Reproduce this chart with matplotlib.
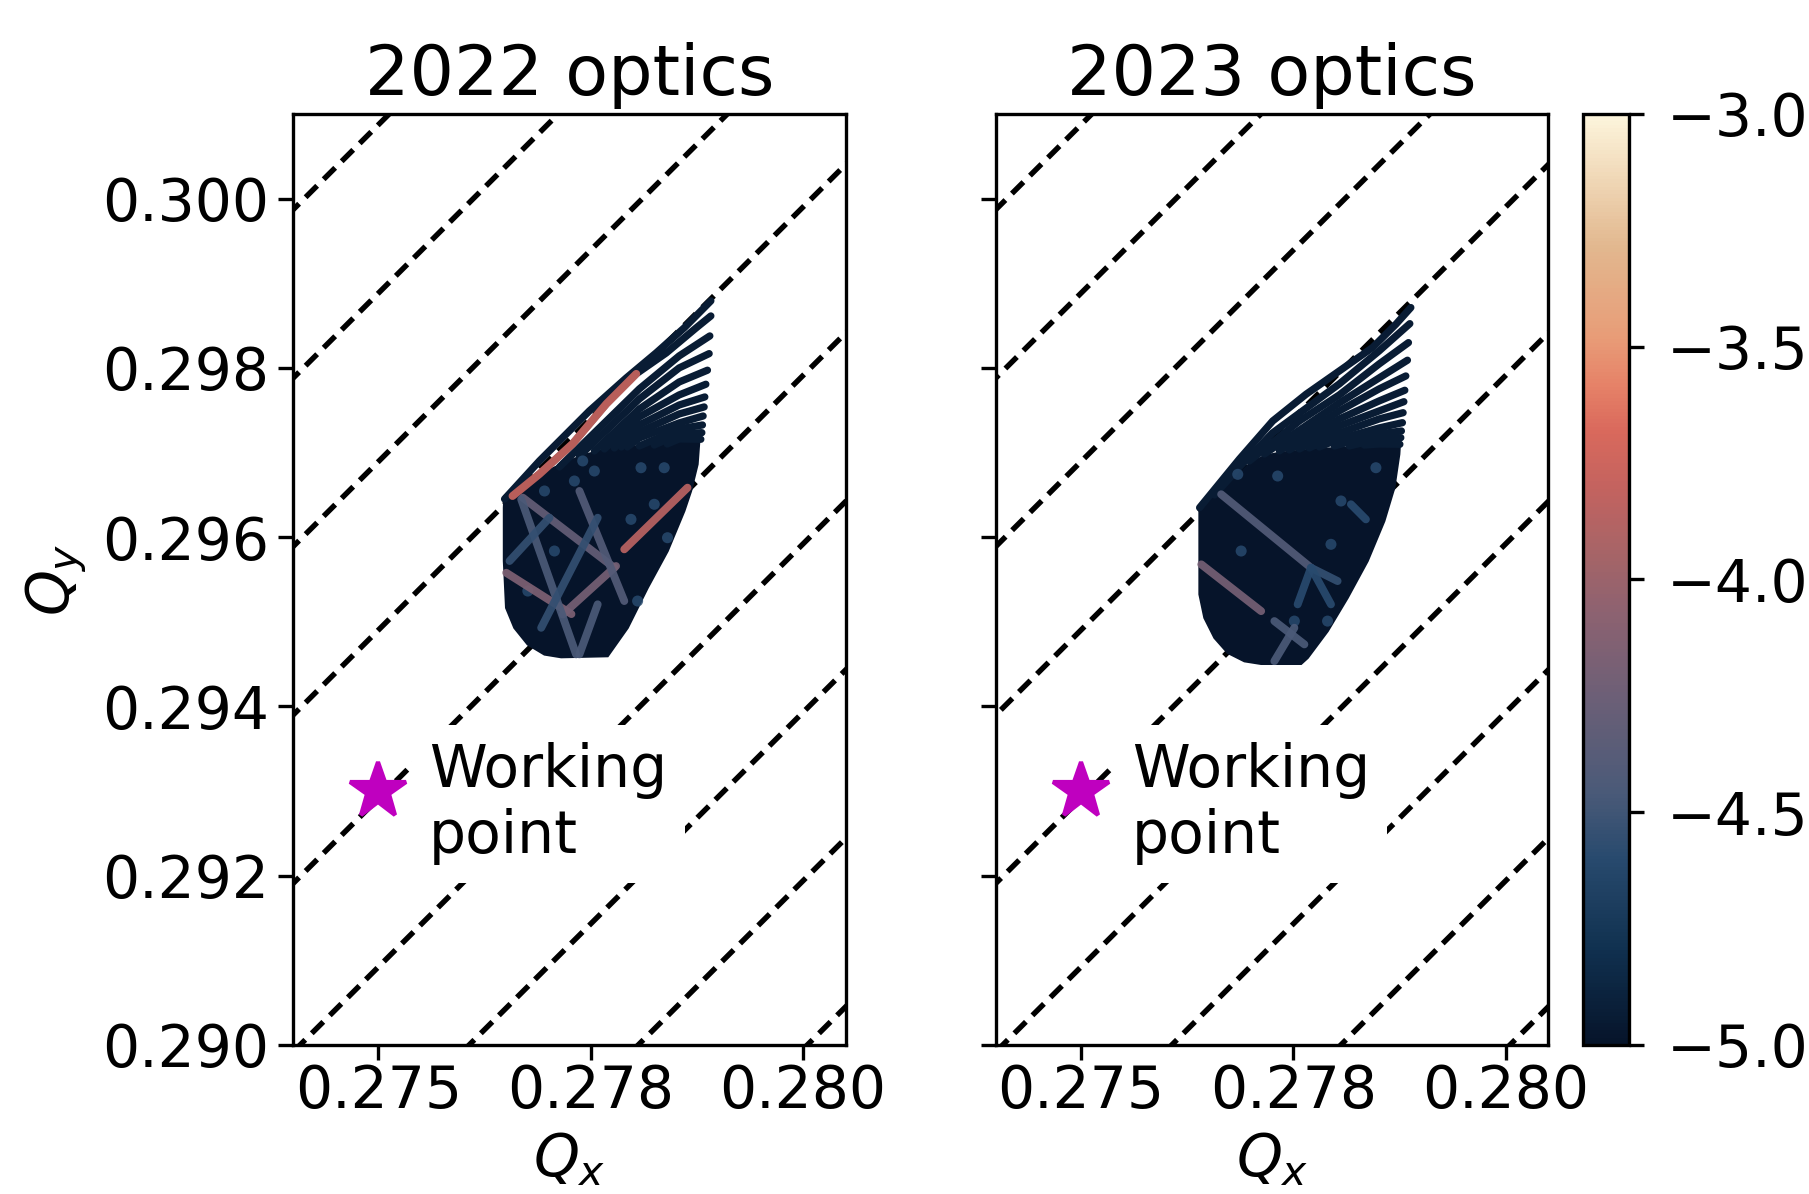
import matplotlib
matplotlib.use("Agg")
import matplotlib.pyplot as plt
from matplotlib.colors import LinearSegmentedColormap, Normalize
from matplotlib.cm import ScalarMappable

plt.rcParams["font.family"] = ["DejaVu Sans"]
plt.rcParams["font.size"] = 14

# ---------------------------------------------------------------- axes data
qx_limits = (0.274, 0.2805)
qy_limits = (0.290, 0.301)
qx_ticks = [0.275, 0.2775, 0.280]
qx_tick_labels = ["0.275", "0.278", "0.280"]
qy_ticks = [0.290, 0.292, 0.294, 0.296, 0.298, 0.300]
qy_tick_labels = ["0.290", "0.292", "0.294", "0.296", "0.298", "0.300"]
panel_titles = ["2022 optics", "2023 optics"]

diffusion_range = (-5.0, -3.0)
cbar_ticks = [-5.0, -4.5, -4.0, -3.5, -3.0]

working_point = (0.275, 0.293)
working_point_label = "Working\npoint"
label_anchor = (0.2756, 0.29285)

# synchrotron sidebands of the coupling resonance: Qy = Qx + m * Qs
synchrotron_tune = 0.00199
sideband_orders = [5, 6, 7, 8, 9, 10, 11, 12, 13]

# ------------------------------------------------------- 2022 tune footprint
fp22_outline_qx = [0.276487, 0.276992, 0.277192, 0.277427, 0.277662, 0.277955,
                   0.278401, 0.278777,
                   0.278757, 0.278680, 0.278601, 0.278405, 0.278170, 0.277935,
                   0.277700, 0.277153, 0.276957, 0.276761, 0.276604, 0.276507,
                   0.276481, 0.276481]
fp22_outline_qy = [0.296486, 0.296781, 0.296876, 0.296970, 0.297030, 0.297065,
                   0.297100, 0.297136,
                   0.296861, 0.296545, 0.296309, 0.295836, 0.295402, 0.294929,
                   0.294595, 0.294583, 0.294615, 0.294733, 0.294929, 0.295165,
                   0.295718, 0.296344]

fp22_strands = [
    [(0.276487, 0.296450), (0.276898, 0.296901), (0.277485, 0.297491), (0.277920, 0.297881),
     (0.278272, 0.298177), (0.278601, 0.298472), (0.278915, 0.298791)],
    [(0.276581, 0.296486), (0.276898, 0.296746), (0.277286, 0.297101), (0.277685, 0.297574),
     (0.278037, 0.297929), (0.278390, 0.298176), (0.278742, 0.298472), (0.278915, 0.298613)],
    [(0.277133, 0.296829), (0.278073, 0.297751), (0.278542, 0.298141), (0.278903, 0.298377)],
    [(0.277368, 0.296959), (0.278073, 0.297632), (0.278542, 0.297999), (0.278895, 0.298168)],
    [(0.277544, 0.297018), (0.278073, 0.297514), (0.278542, 0.297833), (0.278875, 0.297972)],
    [(0.277662, 0.297041), (0.278073, 0.297420), (0.278542, 0.297680), (0.278856, 0.297806)],
    [(0.277779, 0.297053), (0.278073, 0.297325), (0.278542, 0.297561), (0.278844, 0.297656)],
    [(0.277861, 0.297065), (0.278073, 0.297242), (0.278542, 0.297455), (0.278836, 0.297538)],
    [(0.277932, 0.297065), (0.278073, 0.297171), (0.278542, 0.297349), (0.278824, 0.297431)],
    [(0.278073, 0.297077), (0.278542, 0.297278), (0.278816, 0.297325)],
    [(0.278249, 0.297088), (0.278542, 0.297219), (0.278809, 0.297234)],
    [(0.278401, 0.297100), (0.278542, 0.297160), (0.278797, 0.297156)],
]

# resonance streaks: (Qx points, Qy points, log10 diffusion, dotted)
fp22_streaks = [
    ([0.276581, 0.276898, 0.277286, 0.277685, 0.278037],
     [0.296486, 0.296746, 0.297101, 0.297574, 0.297929], -3.78, False),
    ([0.276702, 0.277779], [0.296466, 0.295638], -4.30, False),
    ([0.276507, 0.277274], [0.295579, 0.295091], -4.15, False),
    ([0.278640, 0.277896], [0.296584, 0.295856], -3.85, False),
    ([0.277799, 0.277172], [0.295658, 0.295087], -4.20, False),
    ([0.276683, 0.277329], [0.296447, 0.294615], -4.45, False),
    ([0.277368, 0.277896], [0.296545, 0.295245], -4.40, False),
    ([0.277583, 0.277368], [0.295206, 0.294615], -4.45, False),
    ([0.276683, 0.277896], [0.294831, 0.294831], -4.55, True),
    ([0.276957, 0.277720], [0.294654, 0.294654], -4.55, True),
    ([0.276918, 0.277583], [0.294929, 0.296229], -4.55, False),
    ([0.276546, 0.277016], [0.295718, 0.296229], -4.55, False),
    ([0.277720, 0.277720], [0.297372, 0.295954], -4.60, True),
    ([0.277203, 0.277203], [0.297018, 0.296190], -4.65, True),
    ([0.276526, 0.276918], [0.295954, 0.296348], -4.60, True),
    ([0.278167, 0.278366], [0.295619, 0.295619], -4.60, True),
]

# isolated chaotic particles inside the core
fp22_dots_qx = [0.277407, 0.277309, 0.278093, 0.278366, 0.277544, 0.278405,
                0.278249, 0.277975, 0.278053, 0.276957, 0.277074, 0.276761]
fp22_dots_qy = [0.296900, 0.296663, 0.296820, 0.296820, 0.296781, 0.295993,
                0.296388, 0.296210, 0.295245, 0.296545, 0.295836, 0.295363]

# ------------------------------------------------------- 2023 tune footprint
fp23_outline_qx = [0.276398, 0.276691, 0.276985, 0.277161, 0.277337, 0.277572,
                   0.277807, 0.278159, 0.278755, 0.278746,
                   0.278688, 0.278570, 0.278374, 0.278139, 0.277904, 0.277669,
                   0.277592, 0.277122, 0.276926, 0.276730, 0.276574, 0.276456,
                   0.276398, 0.276398]
fp23_outline_qy = [0.296348, 0.296569, 0.296864, 0.296959, 0.296994, 0.297018,
                   0.297041, 0.297053, 0.297124, 0.296979,
                   0.296584, 0.296190, 0.295718, 0.295284, 0.294890, 0.294574,
                   0.294504, 0.294504, 0.294535, 0.294634, 0.294811, 0.295047,
                   0.295324, 0.295954]

fp23_strands = [
    [(0.276398, 0.296348), (0.276867, 0.296923), (0.277258, 0.297372), (0.277651, 0.297688),
     (0.278042, 0.297963), (0.278433, 0.298239), (0.278708, 0.298515), (0.278884, 0.298712)],
    [(0.276574, 0.296498), (0.276867, 0.296829), (0.277255, 0.297230), (0.278042, 0.297810),
     (0.278511, 0.298200), (0.278872, 0.298522)],
    [(0.276985, 0.296900), (0.277572, 0.297372), (0.278042, 0.297680), (0.278511, 0.298046),
     (0.278856, 0.298298)],
    [(0.277161, 0.296982), (0.278042, 0.297585), (0.278511, 0.297881), (0.278844, 0.298090)],
    [(0.277337, 0.297018), (0.278042, 0.297491), (0.278511, 0.297751), (0.278825, 0.297904)],
    [(0.277454, 0.297030), (0.278042, 0.297396), (0.278511, 0.297609), (0.278813, 0.297735)],
    [(0.277572, 0.297041), (0.278042, 0.297313), (0.278511, 0.297491), (0.278802, 0.297600)],
    [(0.277689, 0.297053), (0.278042, 0.297230), (0.278511, 0.297396), (0.278793, 0.297470)],
    [(0.277807, 0.297065), (0.278042, 0.297160), (0.278511, 0.297290), (0.278785, 0.297352)],
    [(0.277983, 0.297077), (0.278511, 0.297219), (0.278773, 0.297254)],
    [(0.278159, 0.297077), (0.278511, 0.297160), (0.278766, 0.297175)],
    [(0.278335, 0.297088), (0.278511, 0.297100), (0.278755, 0.297097)],
]

fp23_streaks = [
    ([0.276418, 0.277122], [0.295678, 0.295126], -4.20, False),
    ([0.276652, 0.277709], [0.296506, 0.295638], -4.40, False),
    ([0.277709, 0.278022], [0.295638, 0.295481], -4.55, False),
    ([0.277709, 0.277552], [0.295638, 0.295206], -4.60, False),
    ([0.277709, 0.277944], [0.295638, 0.295206], -4.60, False),
    ([0.277181, 0.277181], [0.297136, 0.294535], -4.50, True),
    ([0.277063, 0.277063], [0.297254, 0.296155], -4.55, True),
    ([0.276887, 0.276887], [0.296982, 0.296273], -4.55, True),
    ([0.276652, 0.276652], [0.296427, 0.295564], -4.60, True),
    ([0.276433, 0.276433], [0.296368, 0.295363], -4.60, True),
    ([0.277728, 0.277728], [0.297786, 0.295635], -4.45, True),
    ([0.276887, 0.277827], [0.294811, 0.294811], -4.50, True),
    ([0.276730, 0.277631], [0.294634, 0.294634], -4.50, True),
    ([0.277278, 0.277631], [0.295008, 0.294733], -4.45, False),
    ([0.277513, 0.277278], [0.294929, 0.294535], -4.45, False),
    ([0.278179, 0.278355], [0.296388, 0.296210], -4.60, False),
    ([0.277748, 0.278297], [0.295626, 0.295626], -4.55, True),
]

fp23_dots_qx = [0.278062, 0.278473, 0.277317, 0.277904, 0.277513, 0.276887,
                0.277944, 0.276847]
fp23_dots_qy = [0.296427, 0.296820, 0.296722, 0.295008, 0.295008, 0.295836,
                0.295915, 0.296742]
isolated_dot_level = -4.6

# ------------------------------------------------------------------ styling
diffusion_cmap = LinearSegmentedColormap.from_list(
    "diffusion",
    [(0.00, "#06142a"), (0.10, "#10304f"), (0.20, "#284a6e"), (0.27, "#4a5a78"),
     (0.37, "#6b5f77"), (0.47, "#8f6270"), (0.52, "#a36468"), (0.60, "#c4635f"),
     (0.66, "#d9695c"), (0.71, "#e68268"), (0.76, "#e89c77"), (0.86, "#e2b88f"),
     (1.00, "#fdf5dc")])
norm = Normalize(*diffusion_range)

fig = plt.figure(figsize=(6.03, 3.98), dpi=300)
ax_bottom, ax_height = 0.1248, 0.7798
ax_width = 0.3053
axes = [fig.add_axes([0.1621, ax_bottom, ax_width, ax_height]),
        fig.add_axes([0.5505, ax_bottom, ax_width, ax_height])]
cax = fig.add_axes([0.8751, ax_bottom, 0.0254, ax_height])

footprints = [
    (fp22_outline_qx, fp22_outline_qy, fp22_strands, fp22_streaks,
     fp22_dots_qx, fp22_dots_qy),
    (fp23_outline_qx, fp23_outline_qy, fp23_strands, fp23_streaks,
     fp23_dots_qx, fp23_dots_qy),
]

for i, (ax, fp) in enumerate(zip(axes, footprints)):
    outline_qx, outline_qy, strands, streaks, dots_qx, dots_qy = fp
    core = diffusion_cmap(norm(diffusion_range[0]))
    strand_colour = diffusion_cmap(norm(-4.94))

    # sideband resonance lines
    for m in sideband_orders:
        offset = m * synchrotron_tune
        ax.plot([qx_limits[0] - 0.01, qx_limits[1] + 0.01],
                [qx_limits[0] - 0.01 + offset, qx_limits[1] + 0.01 + offset],
                ls=(0, (3.0, 1.7)), color="black", lw=1.3, zorder=1)

    # dense core of the footprint
    ax.fill(outline_qx, outline_qy, color=core, lw=0.6, zorder=2)

    # amplitude strands fanning out at large amplitude
    for strand in strands:
        sx = [p[0] for p in strand]
        sy = [p[1] for p in strand]
        ax.plot(sx, sy, color=strand_colour, lw=1.75, solid_capstyle="round",
                solid_joinstyle="round", zorder=3)

    # isolated particles with enhanced diffusion
    ax.scatter(dots_qx, dots_qy, s=7.0, c=[isolated_dot_level] * len(dots_qx),
               cmap=diffusion_cmap, norm=norm, linewidths=0, alpha=0.85, zorder=3.5)

    # resonance streaks coloured by diffusion
    for sx, sy, val, dotted in streaks:
        colour = diffusion_cmap(norm(val))
        if dotted:
            ax.plot(sx, sy, color=colour, lw=1.75, ls=(0, (0.0, 1.35)),
                    dash_capstyle="round", alpha=0.95, zorder=4)
        else:
            ax.plot(sx, sy, color=colour, lw=1.9, solid_capstyle="round",
                    alpha=0.92, zorder=4)

    ax.plot(*working_point, marker="*", ms=14, color="m", zorder=6)
    ax.text(label_anchor[0], label_anchor[1], working_point_label, va="center",
            ha="left", zorder=5,
            bbox=dict(boxstyle="square,pad=0.3", facecolor="white", edgecolor="none"))

    ax.set_xlim(*qx_limits)
    ax.set_ylim(*qy_limits)
    ax.set_xticks(qx_ticks, labels=qx_tick_labels)
    ax.set_yticks(qy_ticks, labels=qy_tick_labels if i == 0 else [])
    ax.tick_params(axis="x", pad=0.9)
    ax.tick_params(axis="y", pad=2.4)
    ax.set_xlabel("$Q_x$", labelpad=2.6)
    if i == 0:
        ax.set_ylabel("$Q_y$", labelpad=3.0)
    ax.set_title(panel_titles[i], fontsize="large", pad=4.6)

sm = ScalarMappable(norm=norm, cmap=diffusion_cmap)
cb = fig.colorbar(sm, cax=cax, ticks=cbar_ticks)
cb.ax.tick_params(pad=5.6)

fig.savefig("out.png", dpi=300)
